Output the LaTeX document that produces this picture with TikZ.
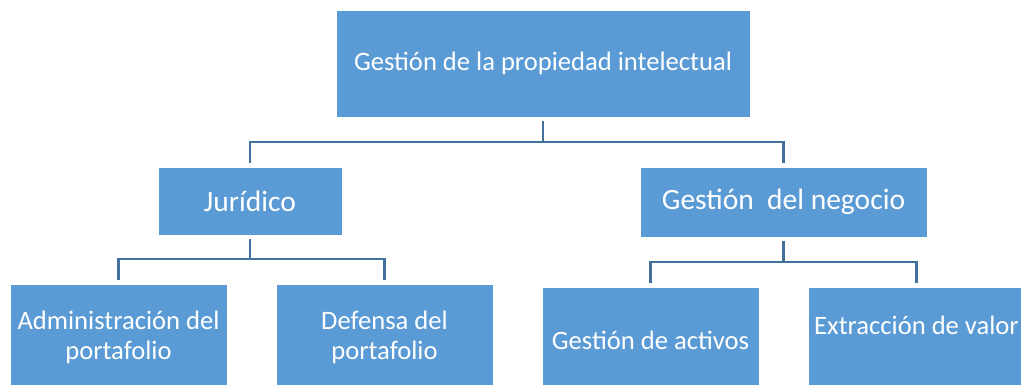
\documentclass[tikz,border=0pt]{standalone}
\usepackage{fontspec}
\setmainfont{Carlito}
\usepackage{tikz}

\definecolor{boxblue}{HTML}{5B9BD5}
\definecolor{linkblue}{HTML}{41719C}

\begin{document}
\begin{tikzpicture}[x=1pt,y=-1pt]
\tikzstyle{box}=[fill=boxblue, draw=white, line width=0.6pt, text=white, inner sep=0pt, align=center, font=\fontsize{26.6}{30}\selectfont]
\tikzstyle{midbox}=[box, font=\fontsize{29.5}{32}\selectfont]
\tikzstyle{link}=[draw=linkblue, line width=2.5pt, shorten <=4pt, shorten >=4pt]
\useasboundingbox (0,0) rectangle (1021,385);
\clip (0,0) rectangle (1021,385);
\node [box, minimum width=414, minimum height=107] (gpi) at (543,63.5) {Gestión de la propiedad intelectual};
\node [midbox, minimum width=184, minimum height=68] (jur) at (250,201) {Jurídico};
\node [midbox, minimum width=287, minimum height=70] (neg) at (783.5,202) {Gestión\ \ del negocio};
\node [box, minimum width=217, minimum height=106] (adm) at (118.5,337) {Administración del\\portafolio};
\node [box, minimum width=217, minimum height=106] (def) at (384.5,337) {Defensa del\\portafolio};
\node [box, minimum width=217, minimum height=106] (act) at (650.5,340) {Gestión de activos};
\node [box, minimum width=217, minimum height=106] (ext) at (916.5,340) {Extracción de valor\\~};
\draw [link] (gpi.south) -- (543,142) -| (jur.north);
\draw [link] (gpi.south) -- (543,142) -| (neg.north);
\draw [link] (jur.south) -- (250,259) -| (adm.north);
\draw [link] (jur.south) -- (250,259) -| (def.north);
\draw [link] (neg.south) -- (783.5,262) -| (act.north);
\draw [link] (neg.south) -- (783.5,262) -| (ext.north);
\end{tikzpicture}
\end{document}
